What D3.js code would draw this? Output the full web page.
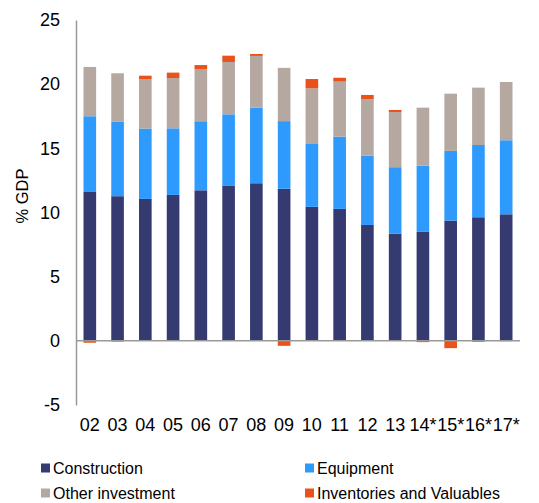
<!DOCTYPE html>
<html><head><meta charset="utf-8">
<script src="https://cdn.jsdelivr.net/npm/d3@7"></script>
<style>body{margin:0;background:#fff}svg{display:block;font-family:"Liberation Sans",Arial,sans-serif}</style>
</head><body><svg id="c" width="539" height="503"></svg>
<script>
const years = ["02","03","04","05","06","07","08","09","10","11","12","13","14*","15*","16*","17*"];
const construction = [11.6,11.27,11.06,11.37,11.73,12.07,12.28,11.85,10.44,10.28,9.03,8.36,8.49,9.37,9.63,9.86];
const equipment    = [5.9,5.79,5.48,5.19,5.38,5.58,5.89,5.27,4.9,5.63,5.4,5.17,5.16,5.43,5.63,5.77];
const otherInv     = [3.84,3.79,3.86,3.92,4.07,4.08,4.03,4.15,4.34,4.29,4.39,4.3,4.52,4.46,4.47,4.54];
const inventories  = [-0.15,-0.06,0.26,0.42,0.31,0.49,0.15,-0.39,0.72,0.3,0.34,0.16,-0.1,-0.57,-0.08,-0.03];
const yTicks = [-5,0,5,10,15,20,25];
const seriesNames = ["Construction","Equipment","Other investment","Inventories and Valuables"];
const colors = ["#353A70","#2F9AFD","#B5A8A1","#E9531B"];

const svg = d3.select("#c");
const x = d3.scaleBand().domain(years).range([76,520]).paddingInner(0.545).paddingOuter(0.27);
const y = d3.scaleLinear().domain([-5,25]).range([405,20]);

const series = [construction, equipment, otherInv, inventories];
const g = svg.append("g");
years.forEach((yr,i)=>{
  let pos = 0, neg = 0;
  series.forEach((s,k)=>{
    const v = s[i];
    let y0,y1;
    if(v>=0){ y0=pos; y1=pos+v; pos=y1; } else { y0=neg; y1=neg+v; neg=y1; }
    g.append("rect")
      .attr("x", x(yr))
      .attr("width", x.bandwidth())
      .attr("y", y(Math.max(y0,y1)))
      .attr("height", Math.abs(y(y0)-y(y1)))
      .attr("fill", colors[k]);
  });
});

// y axis
const yAxis = d3.axisLeft(y).tickValues(yTicks).tickSize(0).tickPadding(16).tickFormat(d => String(d));
const ya = svg.append("g").attr("transform","translate(76,0)").call(yAxis);
ya.select(".domain").attr("stroke","#999").attr("stroke-width",1.5);
ya.selectAll("text").attr("font-size",18).attr("fill","#000").attr("font-family","Liberation Sans, Arial, sans-serif");

// zero line
svg.append("line").attr("x1",76).attr("x2",520).attr("y1",y(0)).attr("y2",y(0)).attr("stroke","#999").attr("stroke-width",1.5);

// x axis labels
const xAxis = d3.axisBottom(x).tickSize(0).tickPadding(0);
const xa = svg.append("g").attr("transform","translate(0,418)").call(xAxis);
xa.select(".domain").remove();
xa.selectAll("text").attr("font-size",18).attr("fill","#000").attr("font-family","Liberation Sans, Arial, sans-serif");

// y title
svg.append("text").attr("transform","translate(28,196) rotate(-90)").attr("text-anchor","middle")
  .attr("font-size",16.5).attr("fill","#000").text("% GDP");

// legend
const legPos = [[41,468],[305,468],[41,493],[305,493]];
seriesNames.forEach((n,k)=>{
  const [lx,ly]=legPos[k];
  svg.append("rect").attr("x",lx).attr("y",ly-4.5).attr("width",9).attr("height",9).attr("fill",colors[k]);
  svg.append("text").attr("x",lx+12).attr("y",ly+5.5).attr("font-size",16).attr("fill","#000").text(n);
});
</script></body></html>
